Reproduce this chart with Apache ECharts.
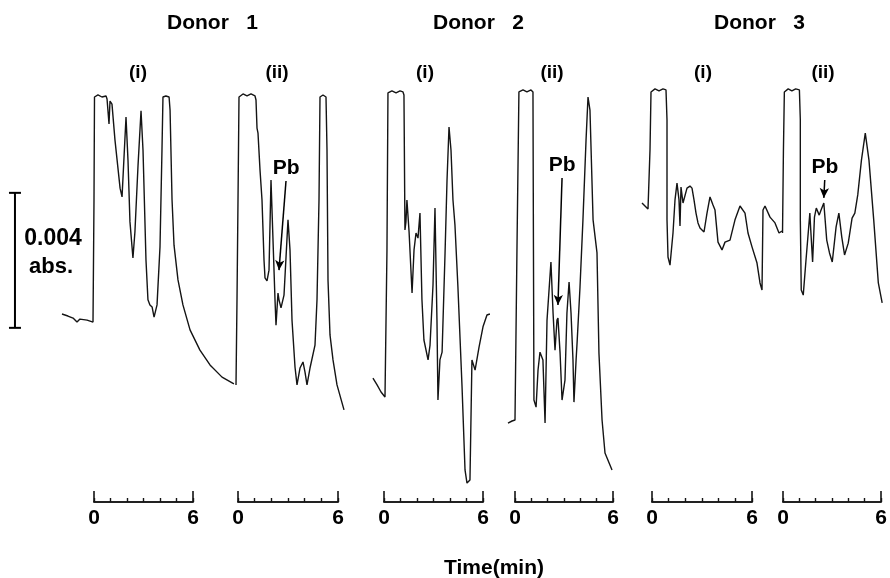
<!DOCTYPE html>
<html>
<head>
<meta charset="utf-8">
<title>Donor chromatograms</title>
<script src="https://cdn.jsdelivr.net/npm/echarts/dist/echarts.min.js"></script>
<style>
html, body { margin: 0; padding: 0; background: #fff; }
#chart { width: 890px; height: 578px; }
</style>
</head>
<body>
<div id="chart"></div>
<script>
// [time (min), absorbance (x 0.001 abs)]
var donor1i = [[-1.94,5.57],[-1.58,5.51],[-1.27,5.45],[-1.03,5.33],[-0.85,5.42],[-0.42,5.39],[-0.06,5.33],[0.00,8.95],[0.03,12.00],
  [0.24,12.06],[0.48,12.00],[0.73,12.03],[0.79,11.94],[0.91,11.20],[0.97,11.88],[1.09,11.79],[1.27,10.73],[1.45,9.90],
  [1.58,9.30],[1.70,9.04],[1.82,9.07],[1.94,11.41],[2.06,10.13],[2.18,8.30],[2.36,7.23],[2.48,8.00],[2.67,9.99],[2.85,11.59],
  [2.97,10.43],[3.15,7.17],[3.27,5.99],[3.39,5.84],[3.52,5.78],[3.64,5.48],[3.82,5.84],[4.00,7.56],[4.12,10.43],[4.18,12.00],
  [4.36,12.03],[4.55,12.00],[4.61,11.61],[4.73,8.95],[4.85,7.61],[5.09,6.58],[5.39,5.84],[5.82,5.10],[6.42,4.50],[7.03,4.06],
  [7.76,3.70],[8.48,3.50]];
var donor1ii = [[-0.12,3.47],[-0.06,5.99],[0.00,8.95],[0.06,12.00],[0.30,12.09],[0.54,12.03],[0.78,12.09],[1.02,12.03],[1.08,11.91],
  [1.14,11.08],[1.20,10.93],[1.32,9.84],[1.44,8.95],[1.56,7.17],[1.62,6.64],[1.74,6.55],[1.86,6.87],[1.98,9.54],[2.10,7.76],
  [2.22,5.99],[2.28,5.24],[2.40,6.19],[2.46,5.99],[2.58,5.75],[2.76,6.13],[3.00,8.36],[3.12,7.47],[3.24,5.39],[3.42,4.00],
  [3.54,3.47],[3.72,3.97],[3.90,4.15],[4.02,3.85],[4.14,3.47],[4.32,3.97],[4.62,4.65],[4.74,5.99],[4.86,8.95],[4.92,12.00],
  [5.10,12.06],[5.28,12.00],[5.34,10.43],[5.40,6.58],[5.52,4.95],[5.70,4.21],[5.94,3.47],[6.36,2.73]];
var donor2i = [[-0.67,3.67],[-0.42,3.47],[-0.18,3.26],[0.06,3.11],[0.12,3.11],[0.18,7.47],[0.24,12.12],[0.48,12.18],[0.73,12.12],
  [0.97,12.18],[1.15,12.15],[1.21,12.06],[1.27,8.06],[1.33,8.30],[1.39,8.95],[1.52,8.00],[1.70,6.19],[1.82,7.47],[1.94,7.97],
  [2.06,7.82],[2.18,8.56],[2.30,5.99],[2.42,4.80],[2.67,4.21],[2.79,4.65],[2.97,6.43],[3.09,8.71],[3.21,5.39],[3.27,3.02],
  [3.39,4.21],[3.52,4.44],[3.70,7.38],[3.82,9.54],[3.94,11.11],[4.06,10.43],[4.18,8.95],[4.30,8.21],[4.48,6.37],[4.73,3.41],
  [4.91,0.95],[5.03,0.56],[5.21,0.65],[5.33,4.21],[5.52,3.91],[5.76,4.59],[6.00,5.19],[6.24,5.54],[6.42,5.57]];
var donor2ii = [[-0.43,2.34],[-0.18,2.40],[-0.06,2.37],[0.00,2.43],[0.12,7.47],[0.24,12.15],[0.49,12.21],[0.73,12.15],[0.98,12.21],
  [1.10,12.15],[1.13,7.47],[1.16,3.02],[1.29,2.81],[1.41,3.91],[1.53,4.44],[1.71,4.21],[1.84,2.34],[1.96,5.39],[2.20,7.11],
  [2.33,5.60],[2.45,4.50],[2.57,5.39],[2.63,5.45],[2.76,4.41],[2.88,3.02],[3.06,3.61],[3.18,5.60],[3.31,6.52],[3.43,5.60],
  [3.55,4.21],[3.61,2.96],[3.74,4.21],[3.80,4.71],[3.98,6.37],[4.16,8.36],[4.35,10.73],[4.47,12.00],[4.59,11.61],[4.78,8.36],
  [5.02,7.38],[5.14,4.41],[5.33,2.43],[5.51,1.45],[5.94,0.95]];
var donor3i = [[-0.60,8.86],[-0.42,8.77],[-0.24,8.68],[-0.12,10.43],[-0.06,12.15],[0.18,12.24],[0.42,12.18],[0.66,12.24],[0.84,12.21],
  [0.90,11.32],[0.90,8.36],[0.96,7.26],[1.08,7.02],[1.26,7.97],[1.38,8.95],[1.50,9.45],[1.62,8.95],[1.68,8.18],[1.74,9.33],
  [1.86,8.86],[2.10,9.30],[2.28,9.36],[2.40,9.30],[2.52,8.95],[2.64,8.56],[2.76,8.27],[2.88,8.12],[3.12,8.00],[3.30,8.56],
  [3.48,9.04],[3.66,8.80],[3.78,8.65],[3.96,7.70],[4.20,7.47],[4.38,7.70],[4.68,7.76],[4.98,8.36],[5.28,8.77],[5.58,8.56],
  [5.76,7.97],[6.00,7.56],[6.30,7.08],[6.48,6.49],[6.60,6.28],[6.66,8.65],[6.78,8.77],[7.08,8.44],[7.38,8.27],[7.62,7.97],
  [7.80,8.03]];
var donor3ii = [[0.00,7.97],[0.06,10.43],[0.12,12.15],[0.37,12.24],[0.61,12.18],[0.86,12.24],[1.10,12.21],[1.16,11.32],[1.16,8.36],
  [1.22,6.28],[1.35,6.13],[1.53,7.17],[1.78,8.56],[1.84,8.06],[1.96,7.11],[2.08,8.44],[2.20,8.71],[2.39,8.50],[2.51,8.65],
  [2.69,8.86],[2.88,7.76],[3.06,7.38],[3.24,7.11],[3.49,8.15],[3.67,8.56],[3.86,7.85],[4.04,7.32],[4.28,7.67],[4.53,8.41],
  [4.71,8.56],[4.90,9.10],[5.14,10.13],[5.39,10.93],[5.63,10.13],[5.94,8.36],[6.24,6.49],[6.49,5.90]];

var donors = ['Donor', 'Donor', 'Donor'];
var donorNumbers = ['1', '2', '3'];
var runs = ['(i)', '(ii)', '(i)', '(ii)', '(i)', '(ii)'];
var timeLabels = [0, 6];
// Pb arrows: [start, tip] in [min, x0.001 abs]
var pbArrows = [null, [[2.88, 9.51], [2.46, 6.87]], null, [[2.88, 9.60], [2.63, 5.84]], null, [[2.75, 9.54], [2.69, 9.01]]];
var scaleBar = [[-4.79, 5.16], [-4.79, 9.16]]; // 0.004 abs

var traces = [donor1i, donor1ii, donor2i, donor2ii, donor3i, donor3ii];
// pixel position of "0" and width of the 0-6 min bracket for each run
var lefts = [94, 238, 384, 515, 652, 783];
var widths = [99, 100, 99, 98, 100, 98];
// time window drawn for each trace (wider than the 0-6 bracket)
var tMin = [-5, -0.5, -1, -0.5, -1, -0.5];
var tMax = [9, 7, 7, 6.5, 8, 7];
var runX = [138, 277, 425, 552, 703, 823];
var font = '"Liberation Sans", Arial, sans-serif';
var ink = '#141414';

var chart = echarts.init(document.getElementById('chart'));

var n = traces.length;
var grids = [], xAxes = [], yAxes = [], series = [];

traces.forEach(function (data, i) {
  var k = widths[i] / 6;
  grids.push({ left: lefts[i] + tMin[i] * k, width: (tMax[i] - tMin[i]) * k, top: 29.5, height: 472.5 });
  xAxes.push({ type: 'value', gridIndex: i, min: tMin[i], max: tMax[i], show: false });
  yAxes.push({ type: 'value', gridIndex: i, min: 0, max: 14, show: false });

  var s = {
    type: 'line', xAxisIndex: i, yAxisIndex: i, data: data,
    showSymbol: false, animation: false, silent: true,
    lineStyle: { color: ink, width: 1.4 }
  };
  if (pbArrows[i]) {
    s.markLine = {
      silent: true, animation: false,
      symbol: ['none', 'arrow'], symbolSize: [7, 10],
      lineStyle: { color: '#000', width: 1.5, type: 'solid' },
      label: { show: true, position: 'start', formatter: 'Pb', color: '#000', fontFamily: font, fontWeight: 'bold', fontSize: 21, distance: 2 },
      data: [[{ coord: pbArrows[i][0] }, { coord: pbArrows[i][1] }]]
    };
  }
  series.push(s);
});

// bracket time axes under each trace
traces.forEach(function (data, i) {
  grids.push({ left: lefts[i], width: widths[i], top: 480, height: 22 });
  yAxes.push({ type: 'value', gridIndex: n + i, min: 0, max: 1, show: false });
});
traces.forEach(function (data, i) {
  xAxes.push({
    type: 'value', gridIndex: n + i, position: 'bottom', min: 0, max: 6, interval: 1,
    axisLine: { lineStyle: { color: ink, width: 1.6 } },
    axisTick: { inside: true, length: 4, lineStyle: { color: ink, width: 1.4 } },
    axisLabel: { show: false }, splitLine: { show: false }
  });
});
traces.forEach(function (data, i) {
  xAxes.push({
    type: 'value', gridIndex: n + i, position: 'bottom', min: 0, max: 6, interval: 6,
    axisLine: { lineStyle: { color: ink, width: 1.6 } },
    axisTick: { inside: true, length: 11, lineStyle: { color: ink, width: 1.6 } },
    axisLabel: {
      color: '#000', fontFamily: font, fontWeight: 'bold', fontSize: 21, margin: 6,
      formatter: function (v) { return timeLabels.indexOf(v) >= 0 ? String(v) : ''; }
    },
    splitLine: { show: false }
  });
});

// 0.004 abs scale bar, drawn on the first run's scale
series.push({
  type: 'line', xAxisIndex: 0, yAxisIndex: 0, data: scaleBar,
  animation: false, silent: true,
  symbol: 'rect', symbolSize: [12, 2], showSymbol: true,
  itemStyle: { color: '#000' }, lineStyle: { color: '#000', width: 2 }
});

var graphics = [];
var donorX = [167, 433, 714];
donors.forEach(function (d, i) {
  graphics.push({ type: 'text', style: { text: d + '   ' + donorNumbers[i], x: donorX[i], y: 23, textAlign: 'left', textVerticalAlign: 'middle', font: 'bold 21px ' + font, fill: '#000' } });
});
runs.forEach(function (r, i) {
  graphics.push({ type: 'text', style: { text: r, x: runX[i], y: 73, textAlign: 'center', textVerticalAlign: 'middle', font: 'bold 19px ' + font, fill: '#000' } });
});
graphics.push({ type: 'text', style: { text: '0.004', x: 53, y: 239, textAlign: 'center', textVerticalAlign: 'middle', font: 'bold 23px ' + font, fill: '#000' } });
graphics.push({ type: 'text', style: { text: 'abs.', x: 51, y: 267, textAlign: 'center', textVerticalAlign: 'middle', font: 'bold 22px ' + font, fill: '#000' } });
graphics.push({ type: 'text', style: { text: 'Time(min)', x: 494, y: 568, textAlign: 'center', textVerticalAlign: 'middle', font: 'bold 21px ' + font, fill: '#000' } });

chart.setOption({
  backgroundColor: '#fff',
  animation: false,
  grid: grids,
  xAxis: xAxes,
  yAxis: yAxes,
  series: series,
  graphic: graphics
});
</script>
</body>
</html>
